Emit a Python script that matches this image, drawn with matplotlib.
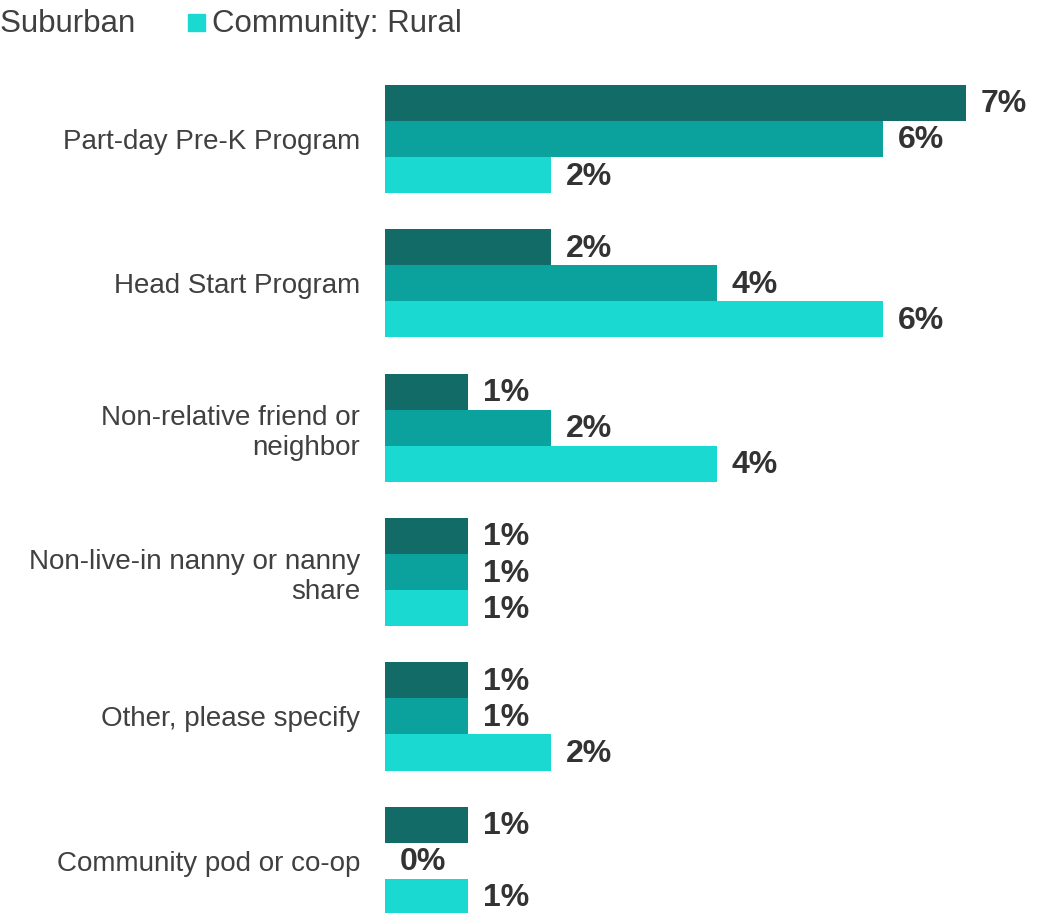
import numpy as np
import matplotlib.pyplot as plt
from matplotlib.patches import Rectangle

plt.rcParams['font.family'] = ['Liberation Sans', 'DejaVu Sans']

# data (percent)
categories = ["Part-day Pre-K Program", "Head Start Program",
              "Non-relative friend or\nneighbor",
              "Non-live-in nanny or nanny\nshare",
              "Other, please specify", "Community pod or co-op"]
urban = [7, 2, 1, 1, 1, 1]
suburban = [6, 4, 2, 1, 1, 0]
rural = [2, 6, 4, 1, 2, 1]
series_names = ["Community: Urban", "Community: Suburban", "Community: Rural"]
colors = ["#126b67", "#0ba19c", "#1ad9d0"]

W, H = 1056, 913
fig = plt.figure(figsize=(W / 100, H / 100), dpi=100)

# axes placed in pixel terms, bottom runs past the figure edge
left_px, right_px = 385, 385 + 8 * 83
top_px, bot_px = 66.8, 933.0
ax = fig.add_axes([left_px / W, (H - bot_px) / H,
                   (right_px - left_px) / W, (bot_px - top_px) / H])

y = np.arange(len(categories))
h = 0.25
for k, (vals, c) in enumerate(zip([urban, suburban, rural], colors)):
    pos = y - h + k * h
    ax.barh(pos, vals, height=h, color=c, linewidth=0)
    for p, v in zip(pos, vals):
        ax.text(v + 0.18, p + 0.01, f"{v}%", va='center', ha='left',
                fontsize=23, fontweight='bold', color='#333333')

ax.set_ylim(len(categories) - 0.5, -0.5)
ax.set_xlim(0, 8)
ax.set_yticks(y)
ax.set_yticklabels(categories, fontsize=20, color='#404040')
ax.tick_params(axis='y', length=0, pad=18)
ax.set_xticks([])
for s in ax.spines.values():
    s.set_visible(False)

# legend, cropped at the left edge as in the original
fig.text(135 / W, 1 - 24 / H, series_names[1], ha='right', va='center',
         fontsize=22.5, color='#404040')
fig.patches.append(Rectangle((188 / W, 1 - 31 / H), 17 / W, 17 / H,
                             transform=fig.transFigure, color=colors[2]))
fig.text(212 / W, 1 - 24 / H, series_names[2], ha='left', va='center',
         fontsize=22.5, color='#404040')

plt.savefig('out.png', dpi=100)
